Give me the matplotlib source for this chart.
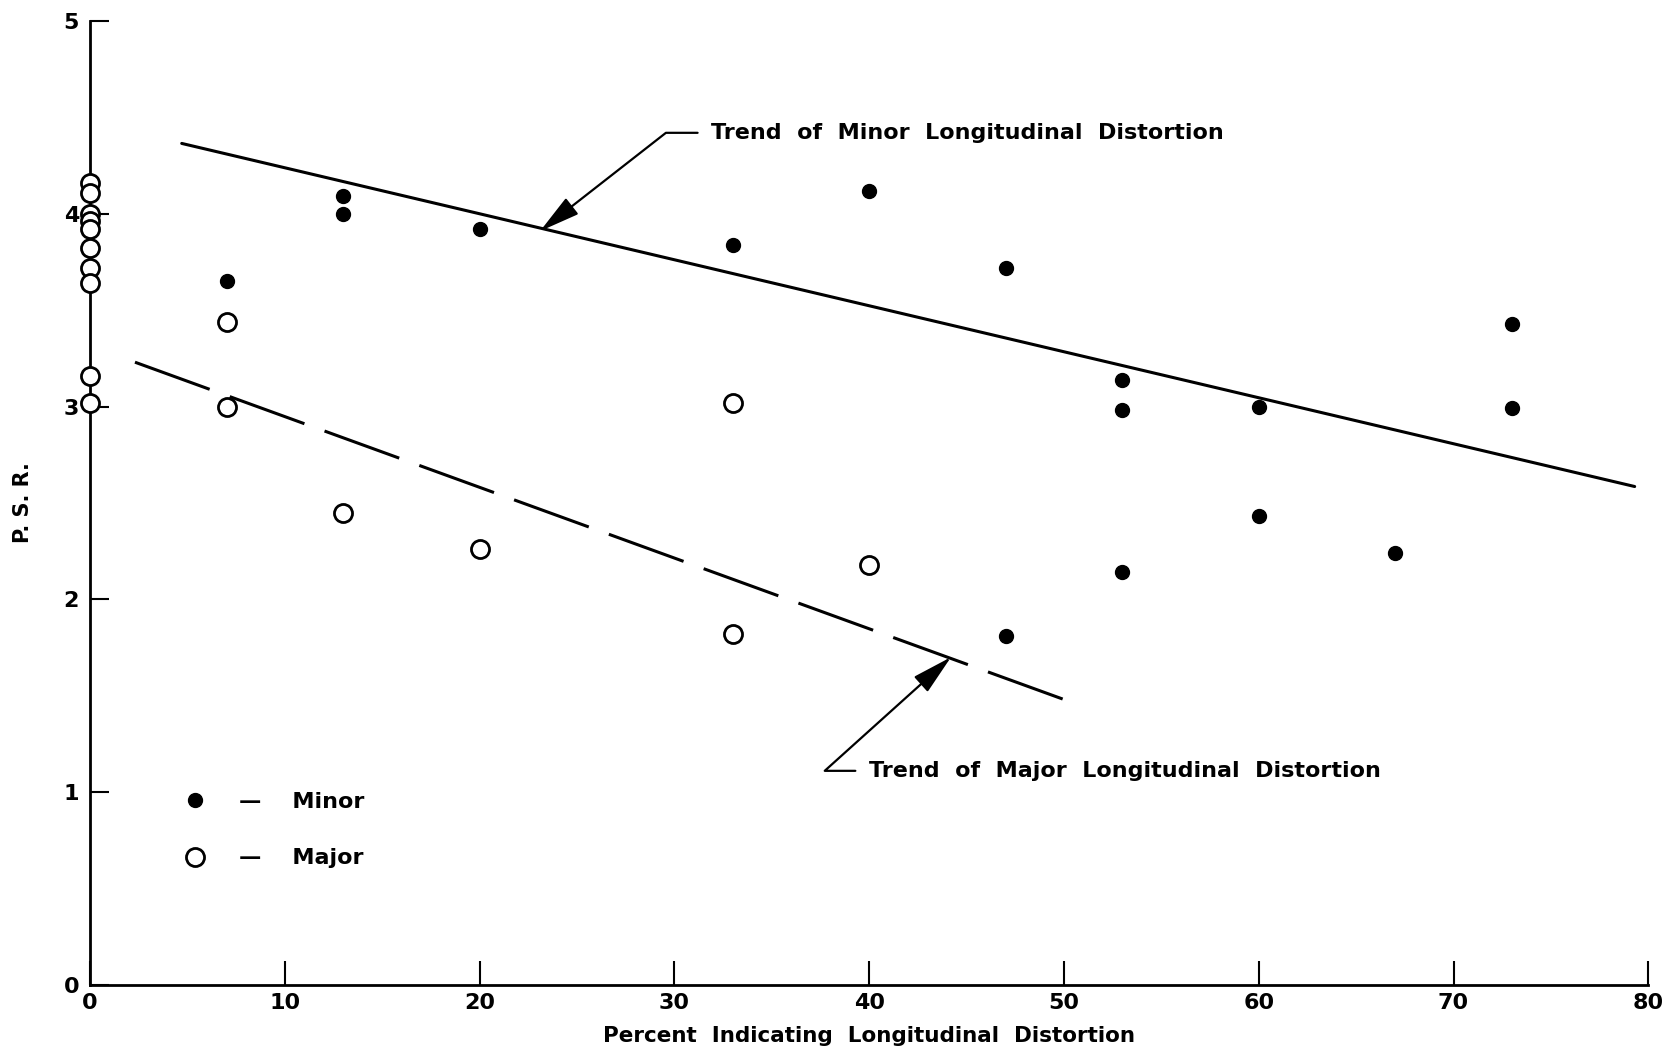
import matplotlib.pyplot as plt
from matplotlib.lines import Line2D

# percent indicating longitudinal distortion vs. P.S.R.
minor_pct = [7, 13, 13, 20, 33, 40, 47, 47, 53, 53, 53, 60, 60, 67, 73, 73]
minor_psr = [3.65, 4.09, 4.00, 3.92, 3.84, 4.12, 3.72, 1.81, 3.14, 2.98, 2.14, 3.00, 2.43, 2.24, 3.43, 2.99]

major_pct = [0, 0, 0, 0, 0, 0, 0, 0, 0, 0, 7, 7, 13, 20, 33, 33, 40]
major_psr = [4.16, 4.11, 4.00, 3.96, 3.92, 3.82, 3.72, 3.64, 3.16, 3.02,
             3.44, 3.00, 2.45, 2.26, 3.02, 1.82, 2.18]

# trend lines (end points)
minor_trend_x = [4.7, 79.3]
minor_trend_y = [4.365, 2.585]
major_trend_x = [2.3, 50.0]
major_trend_y = [3.23, 1.48]

x_ticks = [0, 10, 20, 30, 40, 50, 60, 70, 80]
y_ticks = [0, 1, 2, 3, 4, 5]

plt.rcParams['font.family'] = 'DejaVu Sans'

fig = plt.figure(figsize=(16.7, 10.51), dpi=100)
ax = fig.add_axes([0.054, 0.063, 0.933, 0.917])

ax.plot(minor_trend_x, minor_trend_y, color='black', lw=2.2, solid_capstyle='round')
ax.plot(major_trend_x, major_trend_y, color='black', lw=2.2, dashes=(26, 7))

ax.plot(minor_pct, minor_psr, 'o', color='black', ms=10, ls='none', clip_on=False)
ax.plot(major_pct, major_psr, 'o', mfc='white', mec='black', mew=2, ms=13,
        ls='none', clip_on=False, zorder=5)

ax.set_xlim(0, 80)
ax.set_ylim(0, 5)
ax.set_xticks(x_ticks)
ax.set_yticks(y_ticks)
for s in ['top', 'right']:
    ax.spines[s].set_visible(False)
for s in ['left', 'bottom']:
    ax.spines[s].set_linewidth(2)
ax.tick_params(axis='x', direction='in', length=17, width=1.5, pad=6, labelsize=16)
ax.tick_params(axis='y', direction='in', length=14, width=1.5, pad=8, labelsize=16)
for lab in ax.get_xticklabels() + ax.get_yticklabels():
    lab.set_fontweight('bold')

txt = dict(fontsize=16, fontweight='bold')
ax.set_xlabel('Percent  Indicating  Longitudinal  Distortion', labelpad=9,
              fontsize=15.5, fontweight='bold')
ax.set_ylabel('P. S. R.', labelpad=22, fontsize=15, fontweight='bold')

arrow = dict(arrowstyle='-|>,head_length=1.4,head_width=0.35', color='black', lw=1.6,
             mutation_scale=18, shrinkA=8, shrinkB=0)
ax.annotate('Trend  of  Minor  Longitudinal  Distortion', xy=(23.1, 3.91),
            xytext=(31.9, 4.42), va='center', ha='left',
            arrowprops=dict(connectionstyle='angle,angleA=0,angleB=38,rad=0', **arrow), **txt)
ax.annotate('Trend  of  Major  Longitudinal  Distortion', xy=(44.2, 1.70),
            xytext=(40.0, 1.11), va='center', ha='left',
            arrowprops=dict(connectionstyle='angle,angleA=0,angleB=42,rad=0', **arrow), **txt)

handles = [Line2D([], [], marker='o', color='black', ms=10, ls='none'),
           Line2D([], [], marker='o', mfc='white', mec='black', mew=2, ms=13, ls='none')]
ax.legend(handles, ['\u2014    Minor', '\u2014    Major'], frameon=False,
          loc='lower left', bbox_to_anchor=(0.047, 0.10), handlelength=1,
          handletextpad=1.5, labelspacing=1.65, prop=dict(size=16, weight='bold'))

fig.savefig('out.png', dpi=100)
